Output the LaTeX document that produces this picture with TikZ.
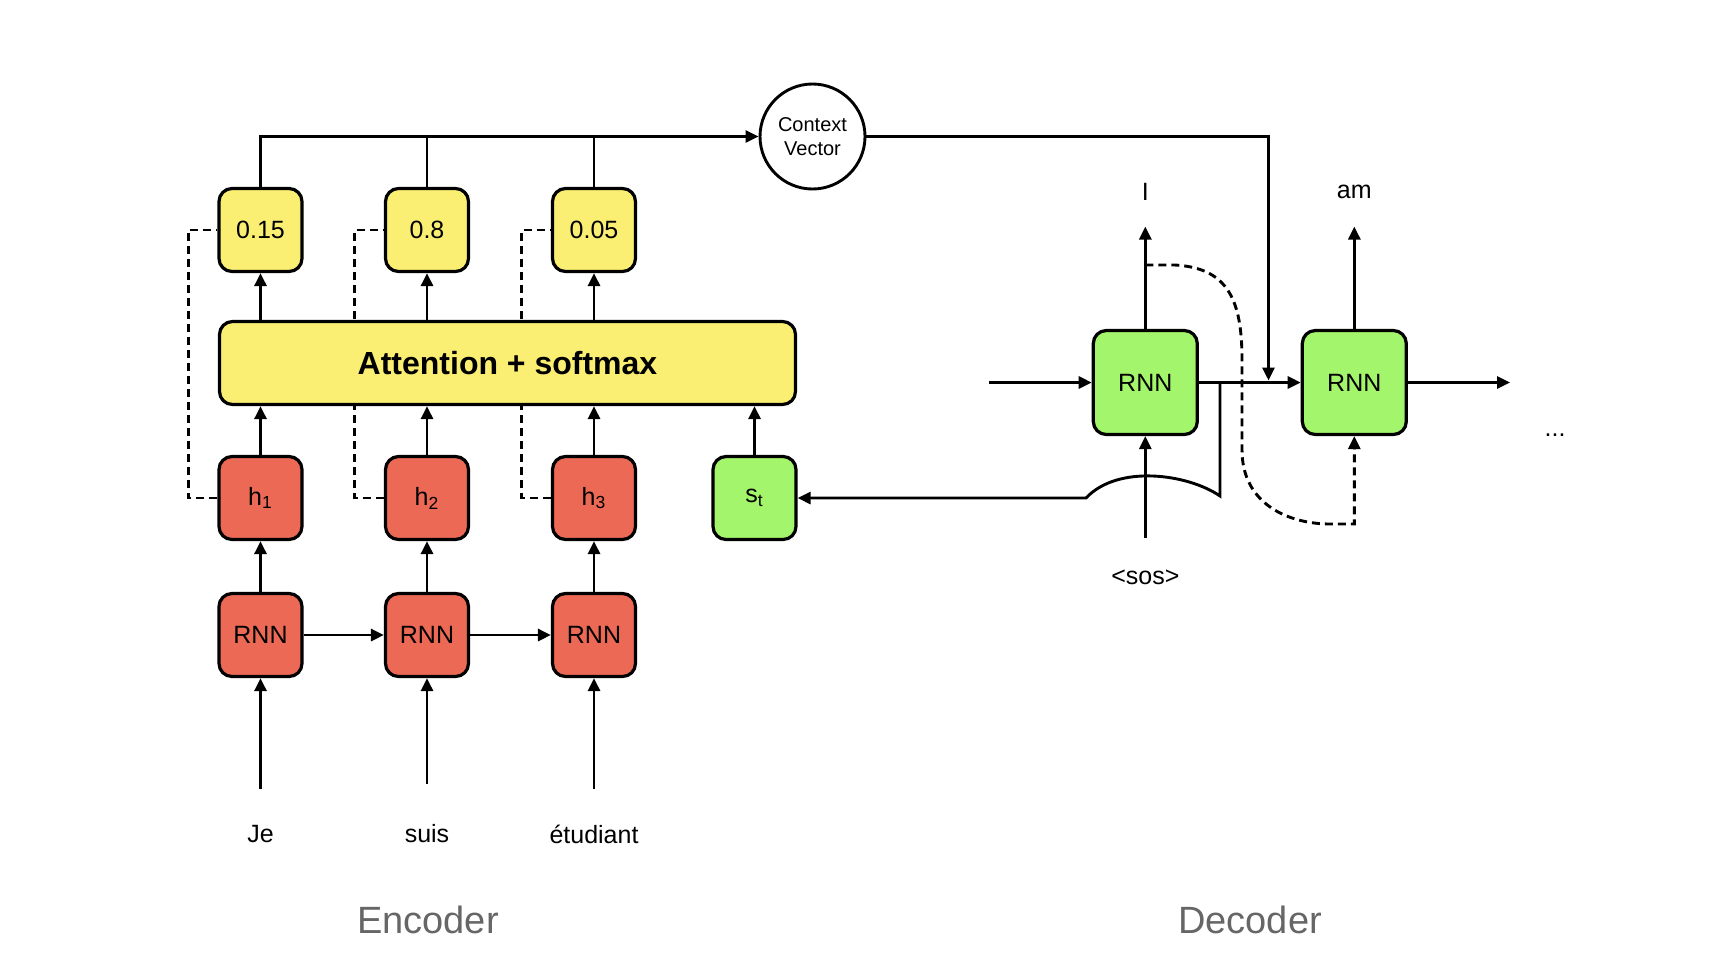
\documentclass[tikz,border=0pt]{standalone}
\usepackage{fontspec}
\setmainfont{Liberation Sans}
\usetikzlibrary{arrows.meta,backgrounds}
\definecolor{encred}{HTML}{EC6A55}
\definecolor{attyellow}{HTML}{FBEF73}
\definecolor{decgreen}{HTML}{A3F56B}

\begin{document}
\begin{tikzpicture}[x=0.5pt,y=-0.5pt,
  cell/.style={draw,line width=1.6pt,rounded corners=6.5pt,minimum size=41.5pt,inner sep=0pt,font=\fontsize{12.5}{14}\selectfont},
  redcell/.style={cell,fill=encred},
  weight/.style={cell,fill=attyellow},
  deccell/.style={cell,fill=decgreen,minimum size=52pt},
  link/.style={line width=1.45pt,-{Triangle[length=6.5pt,width=6pt]}},
  plain/.style={line width=1.45pt},
  skip/.style={line width=1.45pt,dash pattern=on 4pt off 2.5pt},
  word/.style={font=\fontsize{12.5}{14}\selectfont},
  side/.style={font=\fontsize{19}{22}\selectfont,text=black!60}]
\useasboundingbox (0,0) rectangle (1716,960);

% Encoder RNNs and hidden states
\node[redcell] (r1) at (260.5,635) {RNN};
\node[redcell] (r2) at (427,635) {RNN};
\node[redcell] (r3) at (594,635) {RNN};
\node[redcell] (h1) at (260.5,498) {h\textsubscript{1}};
\node[redcell] (h2) at (427,498) {h\textsubscript{2}};
\node[redcell] (h3) at (594,498) {h\textsubscript{3}};
\node[cell,fill=decgreen] (st) at (754.5,498) {s\textsubscript{t}};

% Attention and weights
\node[cell,fill=attyellow,minimum width=288pt,font=\fontsize{16}{18}\selectfont\bfseries] (att) at (507.5,363) {Attention + softmax};
\node[weight] (w1) at (260.5,230) {0.15};
\node[weight] (w2) at (427,230) {0.8};
\node[weight] (w3) at (594,230) {0.05};
\node[circle,draw,line width=1.45pt,minimum size=52.5pt,inner sep=0pt,align=center,font=\fontsize{10}{12}\selectfont] (ctx) at (812.5,136.5) {Context\\Vector};

% Input words
\node[word] (je) at (260.5,834) {Je};
\node[word] (suis) at (427,834) {suis};
\node[word] (etud) at (594,834) {étudiant};
\coordinate (in1) at (260.5,789);
\coordinate (in2) at (427,784);
\coordinate (in3) at (594,789);
\draw[link] (in1) -- (r1);
\draw[link] (in2) -- (r2);
\draw[link] (in3) -- (r3);

\draw[link] (r1) -- (r2);
\draw[link] (r2) -- (r3);
\draw[link] (r1) -- (h1);
\draw[link] (r2) -- (h2);
\draw[link] (r3) -- (h3);
\draw[link] (h1) -- (h1 |- att.south);
\draw[link] (h2) -- (h2 |- att.south);
\draw[link] (h3) -- (h3 |- att.south);
\draw[link] (st) -- (st |- att.south);
\draw[link] (att.north -| w1) -- (w1);
\draw[link] (att.north -| w2) -- (w2);
\draw[link] (att.north -| w3) -- (w3);

% Skip connections behind the attention box
\begin{scope}[on background layer]
\draw[skip] (h1.west) -- ++(-29,0) |- (w1.west);
\draw[skip] (h2.west) -- ++(-29,0) |- (w2.west);
\draw[skip] (h3.west) -- ++(-29,0) |- (w3.west);
\end{scope}

% Context vector
\draw[link] (w1.north) |- (ctx);
\draw[plain] (w2.north) -- (w2.north |- ctx.west);
\draw[plain] (w3.north) -- (w3.north |- ctx.west);

% Decoder
\node[deccell] (d1) at (1145.3,382.5) {RNN};
\node[deccell] (d2) at (1354.3,382.5) {RNN};
\node[word] (outI) at (1145.3,191.5) {I};
\node[word] (outam) at (1354.3,191.5) {am};
\node[word] (sos) at (1145.3,577) {<sos>};
\node[word] (dots) at (1555,435) {...};
\coordinate (dstart) at (989,382.5);
\coordinate (dend) at (1510,382.5);
\coordinate (upI) at (1145.3,226.5);
\coordinate (upam) at (1354.3,226.5);
\coordinate (sosin) at (1145.3,538);
\coordinate (cin) at (1268.5,380.5);
\coordinate (br) at (1220,382.5);
\coordinate (fb) at (1145.3,265);
\draw[link] (dstart) -- (d1);
\draw[link] (d1) -- (d2);
\draw[link] (d2) -- (dend);
\draw[link] (d1) -- (upI);
\draw[link] (d2) -- (upam);
\draw[link] (sosin) -- (d1);
\draw[link] (ctx) -| (cin);

% Decoder state back to s_t
\draw[link] (br) -- (1220,496) .. controls (1188,474) and (1118,464) .. (1086,498) -- (st);

% Previous output fed to next step
\draw[skip,-{Triangle[length=6.5pt,width=6pt]}] (fb) -- (1175,265) .. controls (1228,268) and (1242,300) .. (1242,360) -- (1242,450) .. controls (1242,505) and (1290,524) .. (1330,524) -- (1354.3,524) -- (d2);

% Labels
\node[side] (enc) at (428,920) {Encoder};
\node[side] (dec) at (1250,920) {Decoder};
\end{tikzpicture}
\end{document}
